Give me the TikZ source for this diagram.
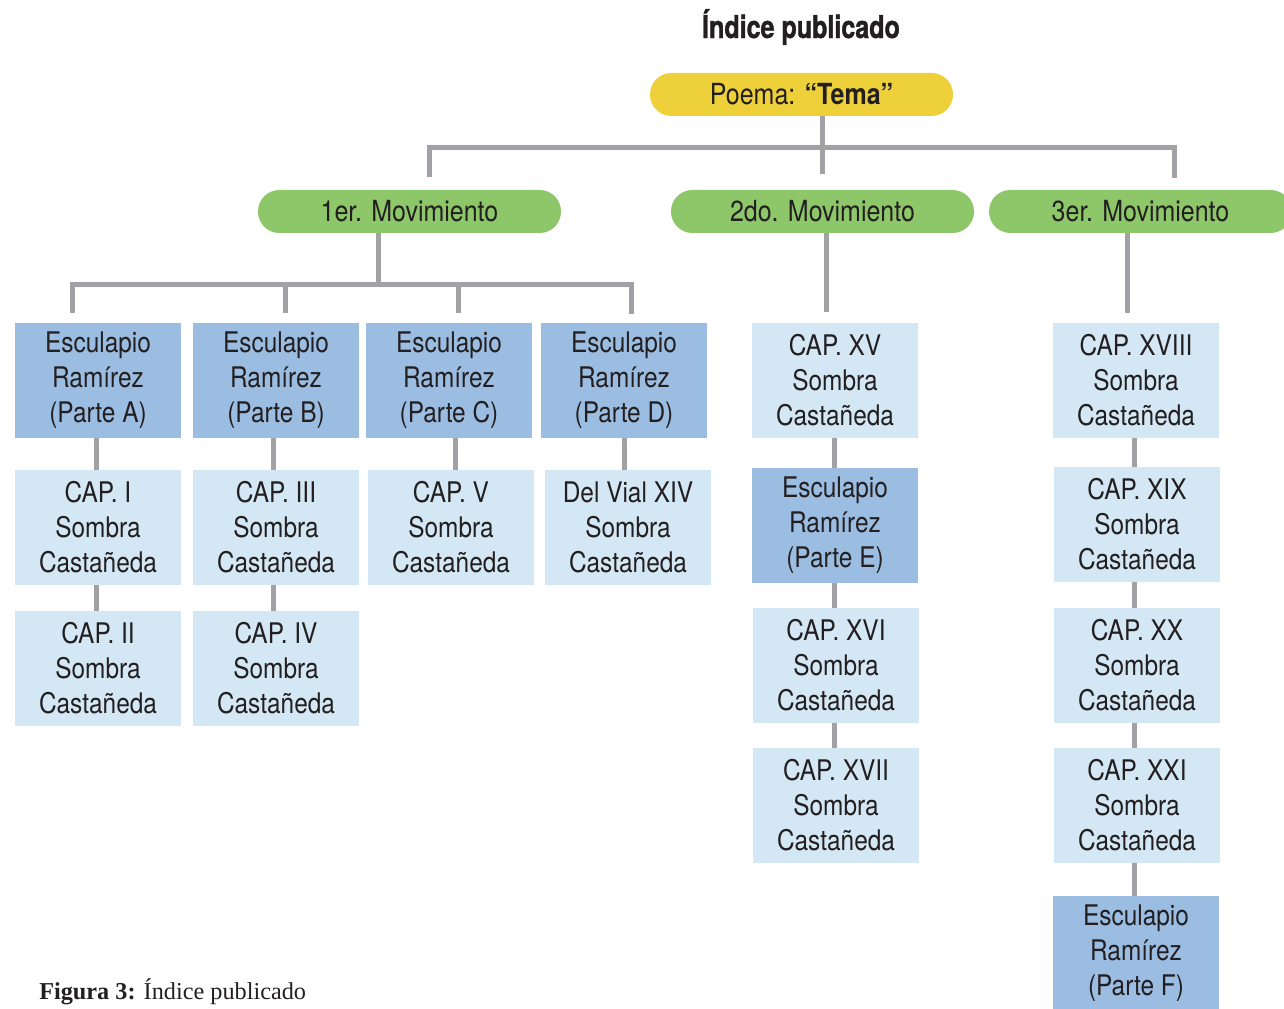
\documentclass[tikz,border=0pt]{standalone}
\usepackage{fontspec}
\setmainfont{TeX Gyre Heros}[FakeStretch=0.86]
\newfontfamily\titlefont{TeX Gyre Heros}[FakeStretch=0.8,FakeBold=1.2]
\newfontfamily\capfont{Liberation Serif}
\usetikzlibrary{calc}
\definecolor{ylw}{HTML}{EED03A}
\definecolor{grn}{HTML}{8DC76A}
\definecolor{dblue}{HTML}{9BBDE2}
\definecolor{lblue}{HTML}{D4E7F5}
\definecolor{cgray}{HTML}{A1A1A6}
\definecolor{txt}{HTML}{231F20}
\begin{document}
\begin{tikzpicture}[x=0.75pt,y=-0.75pt,
 pill/.style={rectangle, rounded corners=16pt, minimum width=227.25pt, minimum height=32.25pt, inner sep=0pt, text=txt, font=\fontsize{21.8}{24}\selectfont},
 gpill/.style={pill, fill=grn},
 box/.style={rectangle, minimum width=124.5pt, minimum height=86.25pt, inner sep=0pt, align=center, text=txt, font=\fontsize{21.3}{26.25}\selectfont},
 dbox/.style={box, fill=dblue},
 lbox/.style={box, fill=lblue},
 conn/.style={draw=cgray, line width=3.75pt}]
\useasboundingbox (0,0) rectangle (1284,1009);
\clip (0,0) rectangle (1284,1009);

% title and root
\node[font=\titlefont\bfseries\fontsize{23.5}{26}\selectfont, text=txt, inner sep=0pt] (title) at (801,27) {Índice publicado};
\node[pill, fill=ylw] (poema) at (801.5,94.5) {Poema: \textbf{“Tema”}};

% movements
\node[gpill] (mov1) at (409.5,211.5) {1er. Movimiento};
\node[gpill] (mov2) at (822.5,211.5) {2do. Movimiento};
\node[gpill] (mov3) at (1140.5,211.5) {3er. Movimiento};

% first movement
\node[dbox] (A) at (98,380.5) {Esculapio\\Ramírez\\(Parte A)};
\node[dbox] (B) at (276,380.5) {Esculapio\\Ramírez\\(Parte B)};
\node[dbox] (C) at (449,380.5) {Esculapio\\Ramírez\\(Parte C)};
\node[dbox] (D) at (624,380.5) {Esculapio\\Ramírez\\(Parte D)};
\node[lbox] (c1) at (98,527.5) {CAP. I\\Sombra\\Castañeda};
\node[lbox] (c3) at (276,527.5) {CAP. III\\Sombra\\Castañeda};
\node[lbox] (c5) at (451,527.5) {CAP. V\\Sombra\\Castañeda};
\node[lbox] (dv) at (628,527.5) {Del Vial XIV\\Sombra\\Castañeda};
\node[lbox] (c2) at (98,668.5) {CAP. II\\Sombra\\Castañeda};
\node[lbox] (c4) at (276,668.5) {CAP. IV\\Sombra\\Castañeda};

% second movement
\node[lbox] (c15) at (835,380) {CAP. XV\\Sombra\\Castañeda};
\node[dbox] (E) at (835,525.5) {Esculapio\\Ramírez\\(Parte E)};
\node[lbox] (c16) at (836,665.5) {CAP. XVI\\Sombra\\Castañeda};
\node[lbox] (c17) at (836,805.5) {CAP. XVII\\Sombra\\Castañeda};

% third movement
\node[lbox] (c18) at (1136,380) {CAP. XVIII\\Sombra\\Castañeda};
\node[lbox] (c19) at (1137,524.5) {CAP. XIX\\Sombra\\Castañeda};
\node[lbox] (c20) at (1137,665.5) {CAP. XX\\Sombra\\Castañeda};
\node[lbox] (c21) at (1137,805.5) {CAP. XXI\\Sombra\\Castañeda};
\node[dbox] (F) at (1136,953.5) {Esculapio\\Ramírez\\(Parte F)};

% caption
\node[anchor=base west, inner sep=0pt, font=\capfont\fontsize{18.2}{20}\selectfont, text=txt] (cap) at (39,999) {\textbf{Figura 3:} Índice publicado};

% top bracket
\coordinate (hub) at (822,148);
\coordinate (d1) at (429,177);
\coordinate (d2) at (822,174);
\coordinate (d3) at (1174,178);
\draw[conn] (poema.south -| hub) -- (d2);
\draw[conn] (d1) -- (d1 |- hub) -- (d3 |- hub) -- (d3);

% first movement bracket
\coordinate (hub1) at (378,284);
\coordinate (e1) at (72,313);
\coordinate (e2) at (285,313);
\coordinate (e3) at (458,313);
\coordinate (e4) at (631,314);
\draw[conn] (mov1.south -| hub1) -- (hub1);
\draw[conn] (e1) -- (e1 |- hub1) -- (e4 |- hub1) -- (e4);
\draw[conn] (e2 |- hub1) -- (e2);
\draw[conn] (e3 |- hub1) -- (e3);

% chains, first movement
\draw[conn] ($(A.south)+(-2,0)$) -- ($(c1.north)+(-2,0)$);
\draw[conn] ($(c1.south)+(-2,0)$) -- ($(c2.north)+(-2,0)$);
\draw[conn] ($(B.south)+(-3,0)$) -- ($(c3.north)+(-3,0)$);
\draw[conn] ($(c3.south)+(-3,0)$) -- ($(c4.north)+(-3,0)$);
\draw[conn] ($(C.south)+(6,0)$) -- ($(c5.north)+(4,0)$);
\draw[conn] (D.south) -- ($(dv.north)+(-4,0)$);

% second movement
\coordinate (f2) at (826,312);
\draw[conn] (mov2.south -| f2) -- (f2);
\draw[conn] ($(c15.south)+(-1,0)$) -- ($(E.north)+(-1,0)$);
\draw[conn] ($(E.south)+(-1,0)$) -- ($(c16.north)+(-2,0)$);
\draw[conn] ($(c16.south)+(-2,0)$) -- ($(c17.north)+(-2,0)$);

% third movement
\coordinate (f3) at (1127,313);
\draw[conn] (mov3.south -| f3) -- (f3);
\draw[conn] ($(c18.south)+(-2,0)$) -- ($(c19.north)+(-3,0)$);
\draw[conn] ($(c19.south)+(-3,0)$) -- ($(c20.north)+(-3,0)$);
\draw[conn] ($(c20.south)+(-3,0)$) -- ($(c21.north)+(-3,0)$);
\draw[conn] ($(c21.south)+(-3,0)$) -- ($(F.north)+(-2,0)$);
\end{tikzpicture}
\end{document}
